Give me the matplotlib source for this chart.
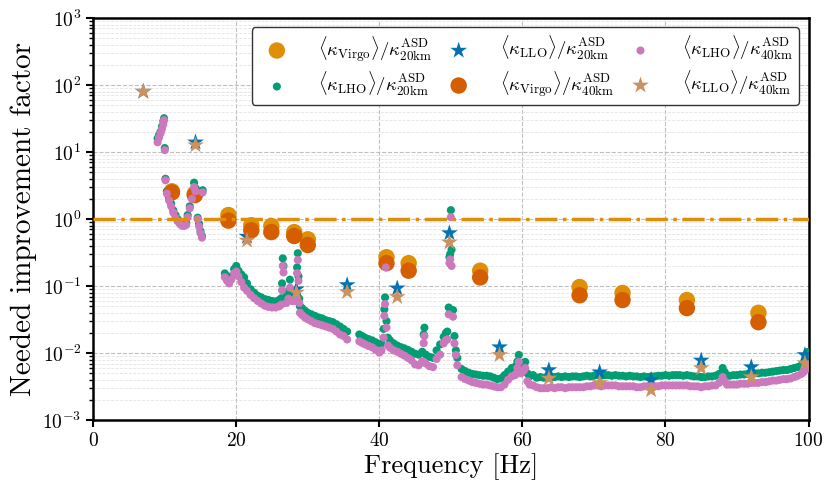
import numpy as np
import matplotlib
matplotlib.use("Agg")
import matplotlib.pyplot as plt

plt.rcParams['font.family'] = 'serif'
plt.rcParams['font.serif'] = ['cmr10']
plt.rcParams['mathtext.fontset'] = 'cm'
plt.rcParams['axes.formatter.use_mathtext'] = True

# LHO narrow-band points: shared frequency grid, one value list per arm length
lho_freq = [
    9.0, 9.2, 9.4, 9.6, 9.8, 9.9, 10.0, 10.1, 10.3, 10.6, 10.9, 11.2, 11.5, 11.8,
    12.1, 12.4, 12.7, 13.0, 13.2, 13.5, 13.8, 14.1, 14.3, 14.6, 14.8, 15.0, 15.2, 15.3,
    18.4, 18.7, 19.0, 19.3, 19.7, 20.0, 20.3, 20.7, 21.1, 21.5, 22.0, 22.5, 23.0,
    23.5, 24.0, 24.5, 25.0, 25.5, 26.0, 26.3, 26.4, 26.5, 26.6, 27.0, 27.3, 27.5,
    27.8, 28.2, 28.4, 28.5, 28.6, 28.7, 28.8, 28.9, 29.2, 29.6, 30.0, 30.5, 31.0,
    31.5, 32.0, 32.5, 33.0, 33.5, 34.0, 34.5, 35.0, 35.5,
    37.2, 37.6, 38.0, 38.5, 39.0, 39.5, 40.0, 40.3, 40.6, 40.7, 40.8, 40.9, 41.0,
    41.2, 41.5, 42.0, 42.5, 43.0, 43.5, 44.0, 44.5, 45.0, 45.5, 46.0, 46.2, 46.3,
    46.5, 47.0, 47.5, 48.0, 48.5, 49.0, 49.3, 49.5, 49.7, 49.8, 49.9, 50.0, 50.1,
    50.3, 50.5, 50.7, 50.9, 51.5, 52.0, 52.5, 53.0, 53.5, 54.0, 54.5, 55.0, 55.5,
    56.0, 56.5, 57.0, 57.5, 58.0, 58.5, 59.0, 59.3, 59.5, 59.8, 60.2, 60.4, 60.7,
    61.0, 61.5, 62.0, 62.5, 63.0, 63.5, 64.0, 64.5, 65.0, 65.5, 66.0, 66.5, 67.0,
    67.5, 68.0, 68.5, 69.0, 69.5, 70.0, 70.5, 71.0, 71.5, 72.0, 72.5, 73.0, 73.5,
    74.0, 74.5, 75.0, 75.5, 76.0, 76.5, 77.0, 77.5, 78.0, 78.5, 79.0, 79.5, 80.0,
    80.5, 81.0, 81.5, 82.0, 82.5, 83.0, 83.5, 84.0, 84.5, 85.0, 85.5, 86.0, 86.5,
    87.0, 87.5, 88.0, 88.3, 88.6, 89.0, 89.5, 90.0, 90.5, 91.0, 91.5, 92.0, 92.5,
    93.0, 93.5, 94.0, 94.5, 95.0, 95.5, 96.0, 96.5, 97.0, 97.5, 98.0, 98.5, 99.0,
    99.3, 99.6, 99.9,
]
lho_20km = [
    16, 18, 20, 24, 29, 32, 11.5, 4.0, 2.6, 2.1, 1.7, 1.35, 1.15, 1.0,
    0.92, 0.86, 0.85, 0.88, 1.15, 1.55, 2.2, 3.5, 2.9, 1.05, 0.85, 0.66, 0.56, 2.7,
    0.155, 0.14, 0.125, 0.14, 0.18, 0.2, 0.17, 0.15, 0.135, 0.11, 0.09, 0.08, 0.072,
    0.068, 0.064, 0.062, 0.06, 0.059, 0.062, 0.066, 0.11, 0.26, 0.2, 0.07, 0.085, 0.125,
    0.075, 0.075, 0.08, 0.19, 0.31, 0.14, 0.065, 0.05, 0.047, 0.043, 0.04, 0.038, 0.036,
    0.034, 0.033, 0.031, 0.03, 0.029, 0.027, 0.025, 0.023, 0.021,
    0.019, 0.018, 0.017, 0.0162, 0.0155, 0.0145, 0.0135, 0.014, 0.023, 0.045, 0.068, 0.22, 0.03,
    0.017, 0.0155, 0.014, 0.013, 0.0123, 0.0118, 0.0112, 0.0105, 0.0098, 0.0095, 0.0105, 0.019, 0.024,
    0.0095, 0.0088, 0.0085, 0.011, 0.0135, 0.0175, 0.02, 0.021, 0.048, 0.27, 0.3, 1.36, 0.35,
    0.044, 0.018, 0.011, 0.0085, 0.0058, 0.0054, 0.0051, 0.0049, 0.0048, 0.0047, 0.0046, 0.0046, 0.0045,
    0.0043, 0.0041, 0.0042, 0.0047, 0.0053, 0.006, 0.0063, 0.0075, 0.0094, 0.0065, 0.0068, 0.0074, 0.005,
    0.0045, 0.0047, 0.0043, 0.0044, 0.0043, 0.0044, 0.0043, 0.0044, 0.0045, 0.0044, 0.0045, 0.0044, 0.0045,
    0.0045, 0.0044, 0.0045, 0.0046, 0.0045, 0.0046, 0.0047, 0.0046, 0.0047, 0.0047, 0.0046, 0.0047, 0.0046,
    0.0046, 0.0045, 0.0046, 0.0045, 0.0045, 0.0044, 0.0045, 0.0044, 0.0045, 0.0045, 0.0046, 0.0046, 0.0047,
    0.0046, 0.0047, 0.0047, 0.0047, 0.0046, 0.0047, 0.0046, 0.0045, 0.0045, 0.0044, 0.0044, 0.0045, 0.0045,
    0.0046, 0.0049, 0.006, 0.0052, 0.0046, 0.0046, 0.0047, 0.0047, 0.0048, 0.0048, 0.0049, 0.0049, 0.005,
    0.005, 0.0051, 0.0051, 0.0052, 0.0053, 0.0054, 0.0055, 0.0056, 0.0056, 0.0058, 0.006, 0.0062, 0.0066,
    0.0071, 0.0085, 0.0104,
]
lho_40km = [
    14, 16.5, 19, 22, 26, 30, 10.7, 3.8, 2.4, 1.9, 1.55, 1.25, 1.05, 0.93,
    0.85, 0.8, 0.79, 0.82, 1.07, 1.45, 2.0, 3.0, 2.6, 1.0, 0.78, 0.62, 0.53, 2.5,
    0.136, 0.12, 0.11, 0.125, 0.156, 0.165, 0.14, 0.115, 0.095, 0.085, 0.074, 0.066, 0.06,
    0.055, 0.051, 0.049, 0.048, 0.048, 0.05, 0.053, 0.087, 0.2, 0.16, 0.056, 0.065, 0.095,
    0.06, 0.06, 0.065, 0.156, 0.245, 0.12, 0.056, 0.04, 0.037, 0.034, 0.032, 0.03, 0.028,
    0.027, 0.026, 0.025, 0.024, 0.023, 0.021, 0.019, 0.018, 0.016,
    0.015, 0.0142, 0.0135, 0.0128, 0.0122, 0.0112, 0.0102, 0.011, 0.017, 0.036, 0.054, 0.19, 0.024,
    0.013, 0.012, 0.011, 0.0105, 0.0098, 0.0092, 0.0085, 0.0078, 0.0068, 0.0066, 0.0075, 0.0141, 0.018,
    0.007, 0.0064, 0.0062, 0.0082, 0.0095, 0.014, 0.0156, 0.016, 0.038, 0.22, 0.25, 1.07, 0.2,
    0.035, 0.014, 0.0094, 0.0066, 0.0044, 0.0041, 0.0039, 0.0037, 0.0036, 0.0035, 0.0034, 0.0034, 0.0033,
    0.0032, 0.0031, 0.0031, 0.0034, 0.004, 0.0045, 0.0047, 0.006, 0.0074, 0.005, 0.0055, 0.006, 0.0038,
    0.0034, 0.0033, 0.0031, 0.003, 0.003, 0.003, 0.0031, 0.003, 0.0031, 0.0031, 0.003, 0.0031, 0.0031,
    0.0031, 0.0031, 0.0031, 0.0032, 0.0032, 0.0033, 0.0033, 0.0032, 0.0033, 0.0033, 0.0033, 0.0033, 0.0032,
    0.0032, 0.0032, 0.0032, 0.0032, 0.0031, 0.0031, 0.0032, 0.0032, 0.0032, 0.0032, 0.0032, 0.0033, 0.0033,
    0.0033, 0.0033, 0.0033, 0.0033, 0.0033, 0.0033, 0.0032, 0.0032, 0.0032, 0.0031, 0.0032, 0.0032, 0.0033,
    0.0033, 0.0036, 0.0044, 0.0038, 0.0034, 0.0034, 0.0034, 0.0034, 0.0035, 0.0035, 0.0035, 0.0036, 0.0036,
    0.0036, 0.0037, 0.0037, 0.0038, 0.0039, 0.0039, 0.004, 0.0041, 0.0041, 0.0042, 0.0044, 0.0046, 0.0049,
    0.0052, 0.0057, 0.0062,
]

# Virgo lines
virgo_freq = [11.0, 14.2, 18.9, 22.1, 24.9, 28.1, 30.0, 41.0, 44.1, 54.1, 68.0, 74.0, 83.0, 93.0]
virgo_20km = [2.6, 2.4, 1.15, 0.81, 0.79, 0.64, 0.50, 0.27, 0.22, 0.17, 0.097, 0.079, 0.062, 0.040]
virgo_40km = [2.5, 2.28, 0.95, 0.68, 0.64, 0.56, 0.41, 0.22, 0.17, 0.135, 0.073, 0.062, 0.047, 0.029]

# LLO lines
llo_freq = [7.0, 14.3, 21.5, 28.4, 35.5, 42.5, 49.8, 56.8, 63.7, 70.8, 78.0, 85.0, 92.0, 99.5]
llo_20km = [80, 14, 0.55, 0.09, 0.104, 0.093, 0.62, 0.0123, 0.0056, 0.0052, 0.0040, 0.0078, 0.0062, 0.0094]
llo_40km = [80, 12.7, 0.48, 0.08, 0.082, 0.069, 0.45, 0.0094, 0.0042, 0.0036, 0.0028, 0.0060, 0.0044, 0.0071]

c_blue, c_orange, c_green, c_red, c_pink, c_tan = '#0173b2', '#de8f05', '#029e73', '#d55e00', '#cc78bc', '#ca9161'

fig = plt.figure(figsize=(8.25, 4.88), dpi=100)
ax = fig.add_axes([0.113, 0.139, 0.867, 0.824])

lab = r'$\langle\kappa_{\rm %s}\rangle/\kappa^{\rm ASD}_{\rm %s}$'
ax.scatter(virgo_freq, virgo_20km, s=140, color=c_orange, edgecolors='none', label=lab % ('Virgo', '20km'), zorder=3)
ax.scatter(lho_freq, lho_20km, s=34, color=c_green, edgecolors='none', label=lab % ('LHO', '20km'), zorder=3)
ax.scatter(llo_freq, llo_20km, s=160, marker='*', color=c_blue, edgecolors='none', label=lab % ('LLO', '20km'), zorder=3)
ax.scatter(virgo_freq, virgo_40km, s=140, color=c_red, edgecolors='none', label=lab % ('Virgo', '40km'), zorder=3)
ax.scatter(lho_freq, lho_40km, s=34, color=c_pink, edgecolors='none', label=lab % ('LHO', '40km'), zorder=3)
ax.scatter(llo_freq, llo_40km, s=160, marker='*', color=c_tan, edgecolors='none', label=lab % ('LLO', '40km'), zorder=3)

ax.axhline(1.0, color=c_orange, linestyle='-.', linewidth=2.5, zorder=4)

ax.set_yscale('log')
ax.set_xlim(0, 100)
ax.set_ylim(1e-3, 1e3)
ax.set_xticks([0, 20, 40, 60, 80, 100])
ax.grid(True, which='major', linestyle='--', color='#b0b0b0', linewidth=0.8, alpha=0.8)
ax.grid(True, which='minor', axis='y', linestyle='--', color='#d8d8d8', linewidth=0.6, alpha=0.7)
ax.set_axisbelow(True)
for sp in ax.spines.values():
    sp.set_linewidth(1.8)
ax.tick_params(which='major', labelsize=14, width=1.5, length=5)
ax.tick_params(which='minor', width=1.0, length=3)

ax.set_xlabel('Frequency [Hz]', fontsize=19, labelpad=2)
ax.set_ylabel('Needed improvement factor', fontsize=21, labelpad=4)

ax.legend(loc='upper right', ncol=3, fontsize=13.5, frameon=True, framealpha=1.0,
          edgecolor='#333333', fancybox=True, handletextpad=1.2, columnspacing=0.4,
          borderpad=0.35, labelspacing=0.35, scatterpoints=1, borderaxespad=0.5)

fig.savefig('out.png', dpi=100)
